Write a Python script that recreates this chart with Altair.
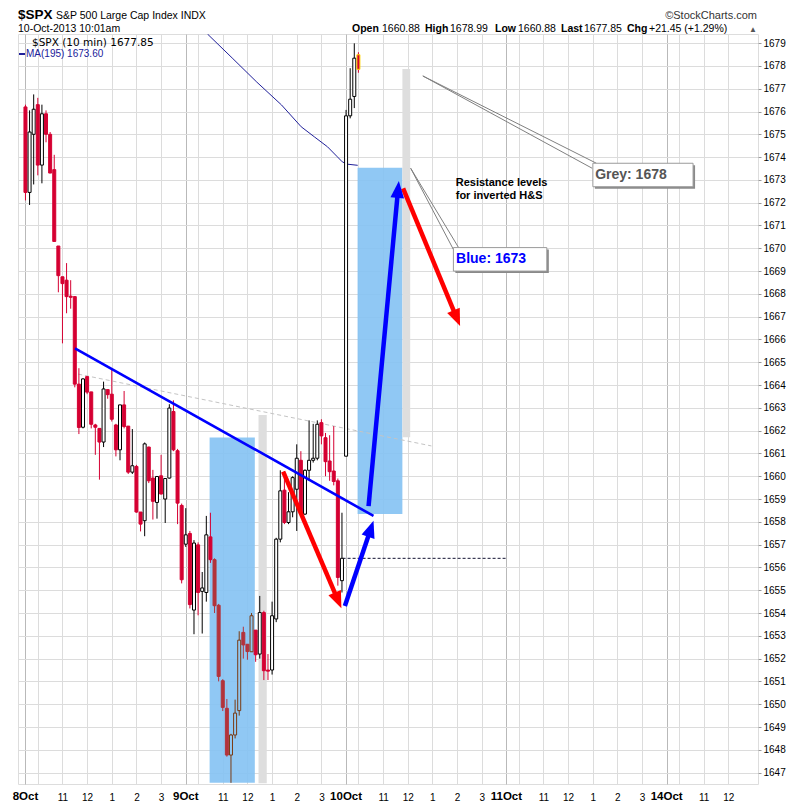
import math
import altair as alt
import pandas as pd

# ---------------- candle data (10-min bars, 8 Oct 09:30 -> 10 Oct 10:00) ----------------
opens = [
    1676.2, 1672.45, 1675.0, 1676.3, 1673.65, 1675.9, 1675.0, 1673.45, 1670.1, 1668.75,
    1668.6, 1667.9, 1667.88, 1664.04, 1662.15, 1664.37, 1663.7, 1662.25, 1662.1, 1661.5,
    1663.8, 1663.6, 1662.25, 1661.16, 1663.13, 1662.2, 1660.18, 1660.43, 1658.43, 1658.05,
    1661.28, 1659.92, 1658.85, 1660.02, 1659.0, 1659.92, 1662.84, 1661.12, 1658.72, 1657.02,
    1657.49, 1654.13, 1656.99, 1654.95, 1654.9, 1657.34, 1656.34, 1654.34, 1651.03, 1649.82,
    1647.77, 1648.65, 1649.72, 1653.15, 1652.63, 1652.3, 1653.25, 1652.2, 1654.02, 1651.5,
    1651.5, 1653.74, 1657.24, 1659.39, 1657.97, 1658.44, 1659.43, 1660.7, 1658.34, 1660.26,
    1660.7, 1660.79, 1662.35, 1661.69, 1660.67, 1660.23, 1659.8, 1655.42, 1660.88, 1675.81,
    1676.66, 1678.49]
highs = [
    1676.3, 1676.05, 1676.75, 1676.6, 1676.3, 1676.05, 1675.1, 1674.1, 1670.1, 1668.75,
    1669.35, 1668.6, 1667.9, 1664.74, 1664.3, 1664.4, 1663.7, 1662.3, 1662.1, 1664.15,
    1663.8, 1664.66, 1662.3, 1663.13, 1663.74, 1662.2, 1662.07, 1660.5, 1658.43, 1661.48,
    1661.3, 1660.28, 1659.99, 1660.94, 1659.9, 1663.16, 1663.33, 1661.2, 1658.8, 1658.6,
    1657.6, 1657.2, 1657.1, 1655.8, 1658.26, 1658.4, 1656.4, 1654.4, 1651.1, 1650.23,
    1648.7, 1650.2, 1653.2, 1653.4, 1652.63, 1654.0, 1653.25, 1654.75, 1654.1, 1652.2,
    1654.5, 1657.3, 1660.26, 1660.23, 1659.3, 1660.0, 1661.4, 1661.1, 1660.3, 1662.45,
    1662.3, 1662.45, 1662.5, 1661.9, 1661.8, 1662.2, 1659.9, 1658.4, 1676.07, 1677.9,
    1678.99, 1678.6]
lows = [
    1672.1, 1671.9, 1672.8, 1673.2, 1672.85, 1674.65, 1673.3, 1670.3, 1668.07, 1665.83,
    1667.15, 1667.35, 1663.9, 1661.85, 1662.1, 1663.6, 1662.1, 1660.94, 1659.85, 1661.28,
    1663.4, 1662.4, 1660.87, 1660.7, 1662.1, 1660.1, 1660.1, 1658.4, 1657.58, 1657.37,
    1659.7, 1658.1, 1658.14, 1659.2, 1657.95, 1659.9, 1661.1, 1657.9, 1655.3, 1656.9,
    1654.2, 1653.07, 1653.9, 1653.1, 1654.5, 1656.2, 1654.0, 1651.0, 1649.7, 1647.7,
    1646.55, 1648.5, 1649.5, 1652.0, 1651.95, 1652.3, 1651.86, 1652.0, 1651.06, 1651.06,
    1651.3, 1653.6, 1657.1, 1657.9, 1657.9, 1658.2, 1657.6, 1658.3, 1658.3, 1659.8,
    1660.6, 1660.7, 1661.4, 1660.0, 1659.8, 1659.6, 1655.2, 1654.9, 1660.88, 1675.7,
    1676.15, 1677.7]
closes = [
    1672.45, 1675.1, 1676.1, 1673.65, 1675.9, 1675.0, 1673.3, 1670.3, 1668.8, 1668.45,
    1667.88, 1667.85, 1664.04, 1662.14, 1664.27, 1663.69, 1662.28, 1662.15, 1661.5, 1663.83,
    1663.58, 1662.5, 1661.16, 1663.13, 1662.18, 1660.18, 1660.46, 1658.43, 1657.9, 1661.42,
    1659.8, 1658.9, 1659.99, 1659.22, 1659.9, 1662.99, 1661.16, 1658.82, 1655.46, 1657.43,
    1654.37, 1657.07, 1654.9, 1655.1, 1657.43, 1656.34, 1654.32, 1651.22, 1649.86, 1647.77,
    1648.65, 1649.61, 1652.81, 1652.6, 1652.31, 1653.88, 1652.17, 1654.02, 1651.47, 1651.45,
    1653.88, 1657.24, 1659.36, 1657.97, 1658.44, 1659.94, 1660.79, 1658.34, 1660.26, 1660.7,
    1660.79, 1662.28, 1661.77, 1660.64, 1660.2, 1659.77, 1655.56, 1656.40, 1675.81, 1676.54,
    1678.34, 1677.85]

# MA(195)
ma_idx = [43.08, 44.28, 50.28, 56.28, 62.28, 67.08, 70.27, 73.49, 75.89, 77.09, 78.29, 80.83]
ma_val = [1679.62, 1679.40, 1678.35, 1677.29, 1676.29, 1675.33, 1674.89, 1674.45, 1674.01, 1673.79, 1673.69, 1673.64]

# x axis ticks (bar index) and labels
xtick_vals = [0, 3, 9, 15, 21, 27, 33,
              39, 42, 48, 54, 60, 66, 72,
              78, 81, 87, 93, 99, 105, 111,
              117, 120, 126, 132, 138, 144, 150,
              156, 159, 165, 171]
xtick_labels = ["", "", "11", "12", "1", "2", "3",
                "", "", "11", "12", "1", "2", "3",
                "", "", "11", "12", "1", "2", "3",
                "", "", "11", "12", "1", "2", "3",
                "", "", "11", "12"]
day_vals = [0, 39, 78, 117, 156]
day_labels = ["8Oct", "9Oct", "10Oct", "11Oct", "14Oct"]
ytick_vals = list(range(1647, 1680))

# annotation rectangles
blue_x1 = [44.8, 80.8]
blue_x2 = [55.8, 91.7]
blue_y1 = [1646.55, 1658.34]
blue_y2 = [1661.7, 1673.53]
grey_x1 = [56.7, 91.7]
grey_x2 = [58.7, 93.6]
grey_y1 = [1646.53, 1661.71]
grey_y2 = [1662.69, 1677.86]
zone_bars = list(range(46, 56))

# lines
dash_line = [12.84, 1664.48, 98.76, 1661.33]
trend_line = [12.05, 1665.61, 84.67, 1658.26]
prior_close = [77.15, 117.0, 1656.40]

# arrows: start x, start price, tip x, tip price
red_arrows = [[62.69, 1660.20, 76.85, 1654.21], [91.87, 1672.63, 105.72, 1666.59]]
blue_arrows = [[77.71, 1654.31, 84.67, 1658.05], [83.47, 1658.69, 90.84, 1672.95]]

# callouts
grey_call_lines = [[96.67, 1677.56, 138.9, 1673.73], [96.67, 1677.56, 137.88, 1673.51]]
grey_box = [138.04, 162.42, 1672.70, 1673.73]
grey_text = ["Grey: 1678", 138.6, 1673.21]
blue_call_lines = [[93.72, 1673.51, 105.48, 1670.00], [93.72, 1673.51, 104.28, 1669.89]]
blue_box = [104.11, 126.84, 1669.0, 1670.03]
blue_text = ["Blue: 1673", 104.76, 1669.53]
res_text = [["Resistance levels", 104.68, 1672.88], ["for inverted H&S", 104.68, 1672.31]]

# ---------------- styling ----------------
W, H = 740, 750
XDOM = [-0.6, 177.0]
YDOM = [1646.5, 1679.4]
SX = W / (XDOM[1] - XDOM[0])
SY = H / (YDOM[1] - YDOM[0])
FONT = "Liberation Sans"
RED = "#d50032"
ZRED = "#b3333b"
ZBROWN = "#7a3a12"
BLUE_RECT = "#84c2f3"

xs = alt.Scale(domain=XDOM, nice=False, zero=False)
ys = alt.Scale(domain=YDOM, nice=False, zero=False)

label_expr = ("[" + ",".join("'%s'" % s for s in xtick_labels) + "][indexof(["
              + ",".join(str(v) for v in xtick_vals) + "], datum.value)]")
day_test = "datum.value % 39 === 0"

x_axis = alt.Axis(values=xtick_vals, labelExpr=label_expr, grid=True,
                  gridColor={"condition": {"test": day_test, "value": "#b9b9b9"}, "value": "#dcdcdc"},
                  labelFontSize=10, ticks=False, domain=False, labelPadding=8, labelFont=FONT,
                  labelColor="#000", labelAlign="center", title=None, labelOverlap=False,
                  labelFlush=False)
y_axis = alt.Axis(orient="right", values=ytick_vals, format="d", grid=True, gridColor="#dcdcdc",
                  tickSize=3, tickColor="#999999", domain=False, labelFont=FONT, labelFontSize=10,
                  labelColor="#000", labelPadding=2, title=None, labelOverlap=False, labelFlush=False)


def X(f):
    return alt.X(f, type="quantitative", scale=xs, axis=x_axis)


def Y(f):
    return alt.Y(f, type="quantitative", scale=ys, axis=y_axis)


# ---------------- tables ----------------
kinds = []
for i, (o, c) in enumerate(zip(opens, closes)):
    k = "dn" if c < o else "up"
    if i in zone_bars:
        k += "z"
    if i == len(opens) - 1:
        k = "last"
    kinds.append(k)
candles = pd.DataFrame({
    "idx": list(range(len(opens))),
    "open": opens, "high": highs, "low": lows, "close": closes, "kind": kinds,
})
candles["btop"] = candles[["open", "close"]].max(axis=1)
candles["bbot"] = candles[["open", "close"]].min(axis=1)
candles.loc[(candles.btop - candles.bbot) < 0.05, "btop"] = candles["bbot"] + 0.05

kdom = ["dn", "up", "dnz", "upz", "last"]
fill_scale = alt.Scale(domain=kdom, range=[RED, "#ffffff", ZRED, "#90c8f4", RED])
stroke_scale = alt.Scale(domain=kdom, range=[RED, "#000000", ZRED, ZBROWN, "#ffd400"])
wick_scale = alt.Scale(domain=kdom, range=[RED, "#000000", ZRED, ZBROWN, RED])

wicks = alt.Chart(candles).mark_rule(strokeWidth=1).encode(
    x=X("idx"), y=Y("low"), y2="high",
    color=alt.Color("kind:N", scale=wick_scale, legend=None),
)
bodies = alt.Chart(candles).mark_bar(size=3.0, strokeWidth=1).encode(
    x=X("idx"), y=Y("bbot"), y2="btop",
    fill=alt.Fill("kind:N", scale=fill_scale, legend=None),
    stroke=alt.Stroke("kind:N", scale=stroke_scale, legend=None),
)

rects = pd.DataFrame({"x1": blue_x1, "x2": blue_x2, "y1": blue_y1, "y2": blue_y2})
blue_layer = alt.Chart(rects).mark_rect(color=BLUE_RECT, opacity=0.9).encode(
    x=X("x1"), x2="x2", y=Y("y1"), y2="y2")
greys = pd.DataFrame({"x1": grey_x1, "x2": grey_x2, "y1": grey_y1, "y2": grey_y2})
grey_layer = alt.Chart(greys).mark_rect(color="#dedede").encode(
    x=X("x1"), x2="x2", y=Y("y1"), y2="y2")


def seg_layer(rows, **mk):
    df = pd.DataFrame(rows, columns=["xa", "ya", "xb", "yb"])
    return alt.Chart(df).mark_rule(**mk).encode(x=X("xa"), y=Y("ya"), x2="xb", y2="yb")


dash_layer = seg_layer([dash_line], color="#c4c4c4", strokeWidth=1, strokeDash=[4, 3])

ma_df = pd.DataFrame({"idx": ma_idx, "ma": ma_val})
ma_layer = alt.Chart(ma_df).mark_line(color="#20209a", strokeWidth=1, clip=True).encode(
    x=X("idx"), y=Y("ma"))

pc_layer = seg_layer([[prior_close[0], prior_close[2], prior_close[1], prior_close[2]]],
                     color="#101030", strokeWidth=1, strokeDash=[3, 2])

trend_layer = seg_layer([trend_line], color="#0000ff", strokeWidth=2.6)

HEAD = 17.0


def arrow_layers(arrs, color):
    rows = []
    for x0, p0, x1, p1 in arrs:
        dxp = (x1 - x0) * SX
        dyp = (p1 - p0) * SY
        L = math.hypot(dxp, dyp)
        ux, uy = dxp / L, dyp / L
        cx = x1 - HEAD / 2 * ux / SX
        cy = p1 - HEAD / 2 * uy / SY
        ang = math.degrees(math.atan2(dxp, dyp)) % 360
        rows.append({"xa": x0, "ya": p0, "xb": cx, "yb": cy, "ang": ang})
    df = pd.DataFrame(rows)
    line = alt.Chart(df).mark_rule(color=color, strokeWidth=4.5).encode(
        x=X("xa"), y=Y("ya"), x2="xb", y2="yb")
    head = alt.Chart(df).mark_point(shape="M0,-1L0.8,1L-0.8,1Z", filled=True, color=color,
                                    opacity=1, size=HEAD * HEAD, strokeWidth=0).encode(
        x=X("xb"), y=Y("yb"), angle=alt.Angle("ang:Q", scale=None))
    return [line, head]


call_grey = seg_layer(grey_call_lines, color="#7f7f7f", strokeWidth=1)
call_blue = seg_layer(blue_call_lines, color="#7f7f7f", strokeWidth=1)


def box_layers(b):
    df = pd.DataFrame({"x1": [b[0]], "x2": [b[1]], "y1": [b[2]], "y2": [b[3]]})
    shadow = alt.Chart(df).mark_rect(color="#8a8a8a", xOffset=2, x2Offset=2, yOffset=2, y2Offset=2).encode(
        x=X("x1"), x2="x2", y=Y("y1"), y2="y2")
    box = alt.Chart(df).mark_rect(fill="#ffffff", stroke="#9a9a9a", strokeWidth=1).encode(
        x=X("x1"), x2="x2", y=Y("y1"), y2="y2")
    return [shadow, box]


def data_text(rows, size, weight, color):
    df = pd.DataFrame(rows, columns=["t", "xa", "ya"])
    return alt.Chart(df).mark_text(align="left", baseline="middle", font=FONT,
                                   fontSize=size, fontWeight=weight, color=color).encode(
        x=X("xa"), y=Y("ya"), text="t:N")


def px_text(s, px, py, size, weight="normal", color="#000000", font=FONT, align="left",
            baseline="alphabetic"):
    return alt.Chart(pd.DataFrame({"t": [s]})).mark_text(
        align=align, baseline=baseline, font=font, fontSize=size, fontWeight=weight, color=color
    ).encode(x=alt.value(px), y=alt.value(py), text="t:N")


day_df = pd.DataFrame({"xa": day_vals, "t": day_labels})
day_layer = alt.Chart(day_df).mark_text(align="center", baseline="top", font=FONT, fontSize=11.5,
                                        fontWeight="bold", color="#000000").encode(
    x=X("xa"), y=alt.value(H + 7), text="t:N")

layers = [blue_layer, grey_layer, dash_layer, ma_layer, pc_layer, wicks, bodies, trend_layer]
layers += arrow_layers(red_arrows, "#ff0000")
layers += arrow_layers(blue_arrows, "#0000ff")
layers += [call_grey, call_blue]
layers += box_layers(grey_box) + box_layers(blue_box)
layers += [data_text([grey_text], 14, "bold", "#555555"),
           data_text([blue_text], 14, "bold", "#0000ff"),
           data_text(res_text, 11, "bold", "#000000"),
           day_layer]

# header and legend text
layers += [
    px_text("$SPX", 0, -15, 13.5, "bold"),
    px_text("S&P 500 Large Cap Index INDX", 38, -15, 10.5),
    px_text("\u00a9StockCharts.com", 739, -15, 11, align="right", color="#333333"),
    px_text("10-Oct-2013 10:01am", 0, -2, 10.5),
    px_text("Open", 334, -2, 10.5, "bold"),
    px_text("1660.88", 364, -2, 10.5),
    px_text("High", 407, -2, 10.5, "bold"),
    px_text("1678.99", 432, -2, 10.5),
    px_text("Low", 477, -2, 10.5, "bold"),
    px_text("1660.88", 500, -2, 10.5),
    px_text("Last", 543, -2, 10.5, "bold"),
    px_text("1677.85", 566, -2, 10.5),
    px_text("Chg", 609, -2, 10.5, "bold"),
    px_text("+21.45 (+1.29%)", 631, -2, 10.5),
    px_text("\u25b2", 731, -2, 8, color="#555555"),
    px_text("$SPX (10 min) 1677.85", 14, 9, 10.5, font="DejaVu Sans", baseline="middle"),
    px_text("MA(195) 1673.60", 8, 20, 10, baseline="middle", color="#20209a"),
    alt.Chart(pd.DataFrame({"t": [0]})).mark_rule(color="#20209a", strokeWidth=2).encode(
        x=alt.value(1), x2=alt.value(7), y=alt.value(20)),
]

chart = alt.layer(*layers).properties(
    width=W, height=H,
    padding={"left": 10, "top": 26, "right": 42, "bottom": 20},
    autosize="none",
).configure_view(stroke="#a8a8a8", fill="#ffffff").configure(background="#ffffff")

chart.save("out.html", embed_options={"renderer": "svg", "actions": False})
